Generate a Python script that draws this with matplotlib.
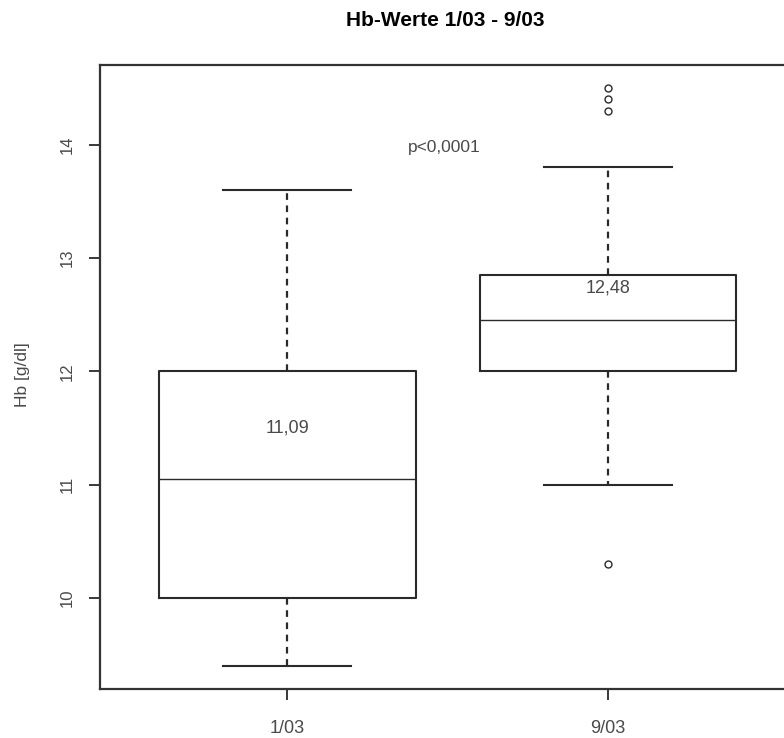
import matplotlib
matplotlib.use("Agg")
import matplotlib.pyplot as plt

plt.rcParams['font.family'] = ['Liberation Sans', 'DejaVu Sans']

# box statistics
labels = ['1/03', '9/03']
q1 = [10.0, 12.0]
med = [11.05, 12.45]
q3 = [12.0, 12.85]
whislo = [9.4, 11.0]
whishi = [13.6, 13.8]
fliers = [[], [10.3, 14.3, 14.4, 14.5]]
mean_labels = ['11,09', '12,48']
mean_label_y = [11.5, 12.74]
p_text = 'p<0,0001'

stats = []
for i in range(len(labels)):
    stats.append({'label': labels[i], 'q1': q1[i], 'med': med[i], 'q3': q3[i],
                  'whislo': whislo[i], 'whishi': whishi[i], 'fliers': fliers[i]})

fig = plt.figure(figsize=(7.84, 7.38), dpi=100)
ax = fig.add_axes([100 / 784, 49 / 738, 692 / 784, 624 / 738])

lc = '#2a2a2a'
tc = '#4a4a4a'
ax.bxp(stats, positions=[1, 2], widths=0.8, showfliers=True,
       boxprops=dict(color=lc, linewidth=1.5),
       medianprops=dict(color=lc, linewidth=1.0),
       whiskerprops=dict(color=lc, linewidth=1.6, linestyle=(0, (3, 2.5))),
       capprops=dict(color=lc, linewidth=1.5),
       capwidths=0.4,
       flierprops=dict(marker='o', markersize=5, markerfacecolor='none',
                       markeredgecolor=lc, markeredgewidth=1.0))

ax.set_xlim(0.415, 2.575)
ax.set_ylim(9.196, 14.704)
ax.set_yticks([10, 11, 12, 13, 14])
ax.set_yticklabels(['10', '11', '12', '13', '14'], rotation=90, va='center')
ax.tick_params(axis='both', colors=lc, labelcolor=tc, length=8, width=1.3)
ax.tick_params(axis='y', labelsize=12, pad=10)
ax.tick_params(axis='x', labelsize=13, pad=14)
for s in ax.spines.values():
    s.set_color('#333333')
    s.set_linewidth(1.6)

for i in range(len(labels)):
    ax.text(i + 1, mean_label_y[i], mean_labels[i], ha='center', va='center',
            fontsize=13, color=tc)
ax.text(1.49, 13.98, p_text, ha='center', va='center', fontsize=12.5,
        color=tc)

fig.text(23 / 784, 1 - 375 / 738, 'Hb [g/dl]', rotation=90, ha='center',
         va='center', fontsize=12.5, color=tc)
fig.text(445 / 784, 1 - 21 / 738, 'Hb-Werte 1/03 - 9/03', ha='center',
         va='center', fontsize=15, fontweight='bold')

fig.savefig('out.png', dpi=100)
